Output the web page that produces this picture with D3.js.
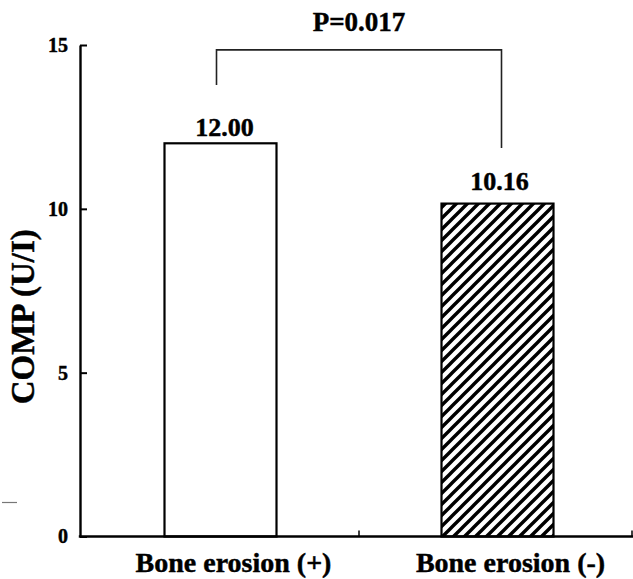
<!DOCTYPE html>
<html>
<head>
<meta charset="utf-8">
<script src="https://cdn.jsdelivr.net/npm/d3@7/dist/d3.min.js"></script>
<style>
  html, body { margin: 0; padding: 0; background: #fff; }
  svg { display: block; }
  text { font-family: "Liberation Serif", "Times New Roman", serif; font-weight: bold; fill: #000; stroke: #000; stroke-width: 0.45px; }
</style>
</head>
<body>
<svg id="chart" width="633" height="579"></svg>
<script>
// ---- data ----
const categories = ["Bone erosion (+)", "Bone erosion (-)"];
const values = [12.00, 10.16];
const valueLabels = ["12.00", "10.16"];
const patterns = ["none", "hatch"];
const yTicks = [0, 5, 10, 15];
const yLabel = "COMP (U/I)";
const pText = "P=0.017";
const bracketTop = 14.85;
const bracketLegs = [13.78, 11.86];

// ---- layout ----
const W = 633, H = 579;
const svg = d3.select("#chart");

const y = d3.scaleLinear().domain([0, 15]).range([536.5, 45]);
const x = d3.scaleBand().domain(categories).range([82, 636]).paddingInner(0).paddingOuter(0);
const barW = 112;
const axisX = 80;

// hatch pattern (///)
const P = 11;
const defs = svg.append("defs");
const pat = defs.append("pattern")
  .attr("id", "hatch")
  .attr("patternUnits", "userSpaceOnUse")
  .attr("width", P).attr("height", P);
pat.append("rect").attr("width", P).attr("height", P).attr("fill", "#fff");
pat.append("path")
  .attr("d", `M${-P/2},${P/2}L${P/2},${-P/2}M0,${P}L${P},0M${P/2},${P*1.5}L${P*1.5},${P/2}`)
  .attr("stroke", "#000").attr("stroke-width", 3.4).attr("stroke-linecap", "square");

// bars
svg.selectAll("rect.bar").data(values).enter().append("rect")
  .attr("class", "bar")
  .attr("x", (d, i) => x(categories[i]) + x.bandwidth() / 2 - barW / 2)
  .attr("y", d => y(d))
  .attr("width", barW)
  .attr("height", d => y(0) - y(d))
  .attr("fill", (d, i) => patterns[i] === "hatch" ? "url(#hatch)" : "#fff")
  .attr("stroke", "#000")
  .attr("stroke-width", 2.2);

// value labels
const labelOffsets = [[4, -7], [2, -14]];
svg.selectAll("text.val").data(values).enter().append("text")
  .attr("class", "val")
  .attr("x", (d, i) => x(categories[i]) + x.bandwidth() / 2 + labelOffsets[i][0])
  .attr("y", (d, i) => y(d) + labelOffsets[i][1])
  .attr("text-anchor", "middle")
  .attr("font-size", 26)
  .text((d, i) => valueLabels[i]);

// y axis
const yAxis = d3.axisLeft(y).tickValues(yTicks).tickSizeInner(-7).tickSizeOuter(0).tickPadding(12)
  .tickFormat(d3.format("d"));
const gy = svg.append("g").attr("transform", `translate(${axisX},0)`).call(yAxis);
gy.select(".domain").attr("stroke", "#000").attr("stroke-width", 2.4);
gy.selectAll(".tick line").attr("stroke", "#000").attr("stroke-width", 2);
gy.selectAll(".tick text").attr("font-size", 20)
  .style("font-family", '"Liberation Serif", "Times New Roman", serif').style("font-weight", "bold")
  .style("stroke", "#000").style("stroke-width", "0.45px");

// x axis line
svg.append("line")
  .attr("x1", axisX - 1.2).attr("x2", W).attr("y1", y(0)).attr("y2", y(0))
  .attr("stroke", "#000").attr("stroke-width", 2.4);
// x ticks at band boundaries
const boundaries = categories.slice(1).map(c => x(c)).concat([Math.min(x.range()[1], W - 1)]);
svg.selectAll("line.xtick").data(boundaries).enter().append("line")
  .attr("class", "xtick")
  .attr("x1", d => d).attr("x2", d => d)
  .attr("y1", y(0)).attr("y2", y(0) - 6)
  .attr("stroke", "#000").attr("stroke-width", 1.5);

// x labels
svg.selectAll("text.xlab").data(categories).enter().append("text")
  .attr("class", "xlab")
  .attr("x", d => x(d) + x.bandwidth() / 2 + 13)
  .attr("y", 572)
  .attr("text-anchor", "middle")
  .attr("font-size", 28)
  .text(d => d);

// y label
svg.append("text")
  .attr("transform", `translate(34, ${(y(0) + y(15)) / 2 + 26}) rotate(-90)`)
  .attr("text-anchor", "middle")
  .attr("font-size", 33)
  .text(yLabel);

// significance bracket
const bx1 = x(categories[0]) + x.bandwidth() / 2 - 4;
const bx2 = x(categories[1]) + x.bandwidth() / 2 + 4;
svg.append("path")
  .attr("d", `M${bx1},${y(bracketLegs[0])}V${y(bracketTop)}H${bx2}V${y(bracketLegs[1])}`)
  .attr("fill", "none").attr("stroke", "#222").attr("stroke-width", 1.6);
svg.append("text")
  .attr("x", (bx1 + bx2) / 2)
  .attr("y", 31)
  .attr("text-anchor", "middle")
  .attr("font-size", 27)
  .text(pText);

// small stray mark at left margin
svg.append("line")
  .attr("x1", 2).attr("x2", 17).attr("y1", 502.5).attr("y2", 502.5)
  .attr("stroke", "#777").attr("stroke-width", 1.2);
</script>
</body>
</html>
